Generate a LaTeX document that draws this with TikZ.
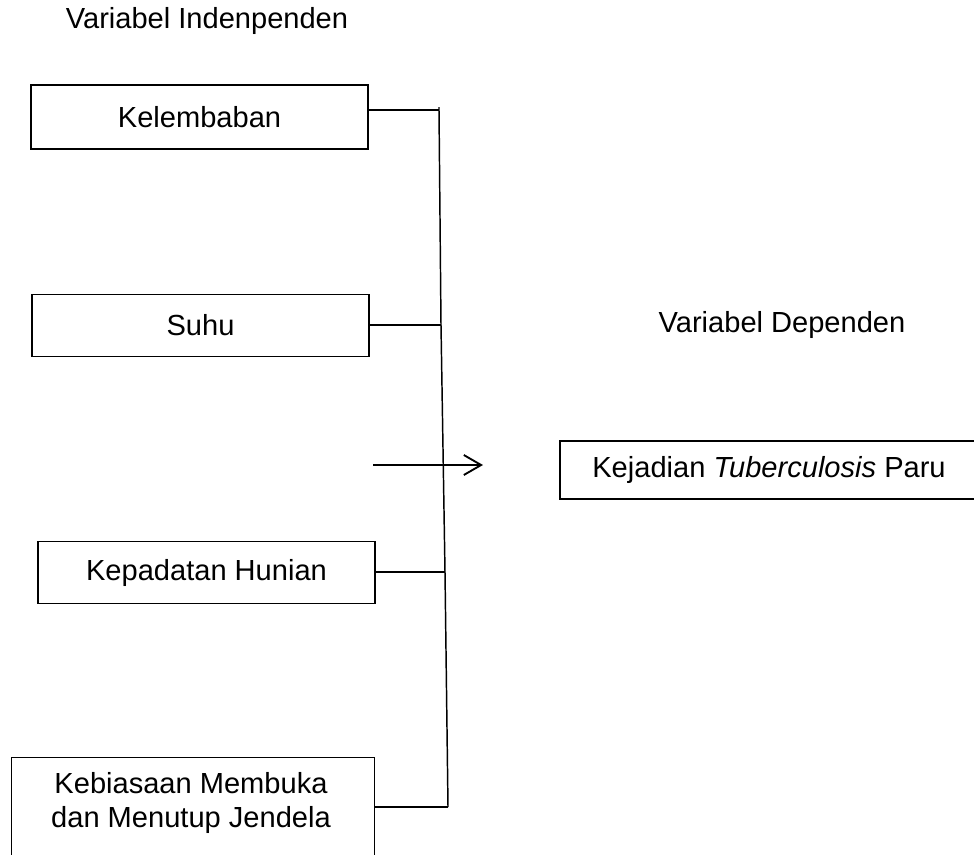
\documentclass[tikz,border=0pt]{standalone}
\usepackage{fontspec}
\setmainfont{Liberation Sans}
\usetikzlibrary{arrows.meta}
\tikzset{
  varbox/.style={draw, line width=1.1pt, minimum width=252.75pt, minimum height=46.5pt, inner sep=0pt},
  link/.style={line width=1.1pt}
}
\begin{document}
\begin{tikzpicture}[x=0.75pt,y=-0.75pt,font=\fontsize{21.8}{26}\selectfont]
\clip (0,0) rectangle (974,854);

\node (judul1) at (207,21) {Variabel Indenpenden};
\node (judul2) at (782,325) {Variabel Dependen};

\node[varbox, minimum height=48pt] (kel) at (199.5,117) {Kelembaban};
\node[varbox] (suhu) at (200.5,325.5) {Suhu};
\node[varbox] (padat) at (206.5,572.5) {Kepadatan Hunian};
\node[varbox, minimum width=272.25pt, minimum height=90pt, anchor=north west] (keb) at (11,757) {};
\node[align=center, inner sep=0pt] (kebtxt) at (191,803) {Kebiasaan Membuka\\dan Menutup Jendela};

\node[varbox, minimum width=313.5pt, minimum height=43.5pt] (tb) at (769,470) {Kejadian \textit{Tuberculosis} Paru};

% garis pengumpul
\coordinate (j1) at (439,110);
\coordinate (j2) at (441,325);
\coordinate (j3) at (445,572);
\coordinate (j4) at (448,807);
\draw[link] (439,107) -- (j1) -- (j2) -- (j3) -- (j4);

\draw[link] (kel.east |- j1) -- (j1);
\draw[link] (suhu.east |- j2) -- (j2);
\draw[link] (padat.east |- j3) -- (j3);
\draw[link] (keb.east |- j4) -- (j4);

\coordinate (pangkal) at (373,465);
\coordinate (ujung) at (483,465);
\draw[link,line width=1.4pt,-{Straight Barb[length=13pt,width=15pt]}] (pangkal) -- (ujung);

\end{tikzpicture}
\end{document}
